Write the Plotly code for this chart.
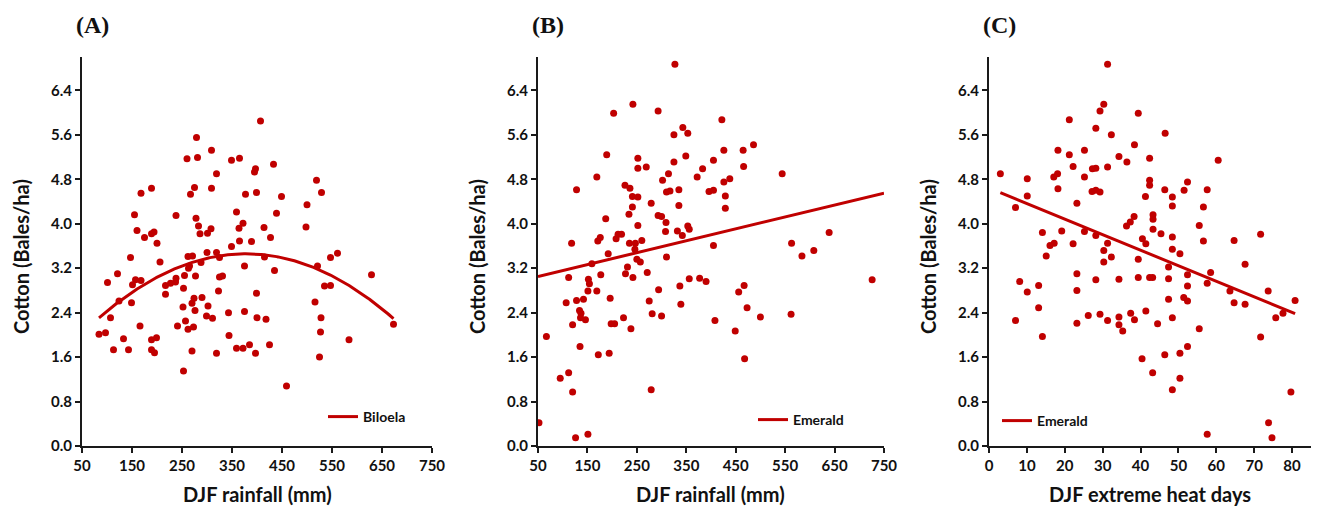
import numpy as np
import plotly.graph_objects as go

RED = "#C00000"

# Panel A: Biloela, DJF rainfall (mm) vs cotton (bales/ha)
a_rain = [407, 279, 260, 281, 309, 349, 365, 319, 397, 395, 168, 189, 275, 267, 309, 377, 399, 155, 238, 278,
          359, 160, 189, 194, 175, 200, 283, 286, 301, 308, 372, 364, 365, 389, 349, 147, 206, 262, 271, 300,
          319, 325, 288, 265, 263, 375, 121, 101, 151, 157, 168, 217, 227, 237, 238, 255, 277, 253, 217, 325,
          331, 323, 399, 274, 290, 433, 449, 519, 529, 500, 439, 414, 427, 498, 547, 561, 415, 521, 435, 629,
          535, 547, 124, 149, 252, 270, 302, 276, 107, 84, 97, 166, 133, 113, 143, 189, 199, 189, 195, 241,
          257, 262, 273, 270, 299, 311, 319, 343, 344, 375, 400, 359, 372, 385, 397, 253, 516, 418, 528, 527,
          584, 425, 525, 459, 673]
a_yield = [5.85, 5.55, 5.17, 5.19, 5.32, 5.14, 5.18, 4.90, 4.99, 4.93, 4.55, 4.64, 4.65, 4.53, 4.64, 4.53, 4.56, 4.16, 4.15, 4.10,
           4.21, 3.88, 3.82, 3.85, 3.75, 3.65, 3.96, 3.82, 3.83, 3.91, 4.01, 3.92, 3.69, 3.68, 3.59, 3.39, 3.31, 3.41, 3.42, 3.48,
           3.48, 3.39, 3.30, 3.24, 3.20, 3.24, 3.10, 2.94, 2.90, 2.99, 2.98, 2.89, 2.93, 2.95, 3.02, 3.07, 3.06, 2.84, 2.73, 3.04,
           3.06, 2.79, 2.75, 2.66, 2.67, 5.07, 4.49, 4.78, 4.56, 4.34, 4.19, 3.93, 3.75, 3.94, 3.39, 3.47, 3.40, 3.24, 3.16, 3.08,
           2.88, 2.89, 2.61, 2.58, 2.50, 2.57, 2.52, 2.44, 2.31, 2.01, 2.04, 2.16, 1.93, 1.73, 1.73, 1.91, 1.95, 1.73, 1.68, 2.16,
           2.25, 2.10, 2.14, 1.71, 2.34, 2.30, 1.67, 2.40, 1.99, 2.42, 2.31, 1.76, 1.76, 1.82, 1.67, 1.35, 2.59, 2.28, 2.31, 2.05,
           1.91, 1.82, 1.60, 1.08, 2.19]

# Panel B: Emerald, DJF rainfall (mm) vs cotton (bales/ha)
b_rain = [327, 242, 203, 293, 343, 353, 325, 189, 252, 252, 269, 349, 325, 405, 383, 169, 314, 302, 372, 128,
          226, 236, 310, 317, 335, 396, 405, 241, 252, 279, 241, 335, 234, 293, 300, 187, 309, 252, 353, 356,
          332, 342, 308, 212, 219, 208, 176, 171, 118, 235, 247, 260, 246, 192, 405, 159, 250, 257, 310, 231,
          422, 426, 465, 486, 466, 438, 426, 429, 429, 544, 563, 584, 608, 639, 112, 152, 154, 177, 227, 242,
          271, 151, 169, 107, 128, 142, 196, 134, 137, 136, 146, 120, 198, 205, 223, 238, 275, 294, 281, 300,
          337, 356, 377, 390, 339, 408, 67, 135, 172, 194, 95, 112, 120, 279, 52, 151, 126, 467, 456, 473,
          449, 500, 562, 468, 726]
b_yield = [6.87, 6.15, 5.99, 6.03, 5.73, 5.63, 5.60, 5.24, 5.18, 5.00, 5.02, 5.22, 5.11, 5.14, 4.99, 4.84, 4.90, 4.78, 4.84, 4.61,
           4.69, 4.64, 4.57, 4.59, 4.61, 4.58, 4.60, 4.49, 4.48, 4.37, 4.30, 4.33, 4.17, 4.15, 4.13, 4.09, 4.02, 3.97, 3.96, 3.90,
           3.87, 3.79, 3.86, 3.81, 3.81, 3.73, 3.75, 3.69, 3.65, 3.65, 3.65, 3.70, 3.54, 3.46, 3.61, 3.28, 3.36, 3.31, 3.40, 3.22,
           5.87, 5.32, 5.32, 5.42, 5.03, 4.81, 4.75, 4.50, 4.28, 4.90, 3.65, 3.42, 3.52, 3.84, 3.03, 3.00, 2.92, 3.08, 3.10, 3.03,
           3.12, 2.79, 2.79, 2.58, 2.62, 2.64, 2.66, 2.44, 2.39, 2.31, 2.27, 2.18, 2.20, 2.20, 2.31, 2.11, 2.61, 2.81, 2.38, 2.34,
           2.88, 3.01, 3.02, 2.96, 2.55, 2.26, 1.97, 1.79, 1.64, 1.67, 1.22, 1.32, 0.97, 1.01, 0.42, 0.21, 0.15, 2.89, 2.77, 2.49,
           2.07, 2.32, 2.37, 1.57, 2.99]
# Panel B linear trendline (ends at 50 and 750 mm)
b_trend_rain = [50, 750]
b_trend_yield = [3.05, 4.55]

# Panel C: Emerald, DJF extreme heat days vs cotton (bales/ha)
c_days = [31.3, 30.3, 29.3, 39.4, 21.2, 28.2, 32.3, 38.4, 18.2, 25.2, 21.2, 34.3, 36.4, 42.4, 22.2, 27.3, 28.2, 31.3, 3.0, 10.1,
          18.1, 17.1, 25.2, 18.2, 42.4, 42.4, 27.2, 28.2, 29.3, 10.1, 41.3, 7.0, 23.2, 38.3, 37.3, 36.3, 43.3, 43.3, 43.3, 14.1,
          19.2, 25.2, 28.2, 17.2, 16.1, 22.2, 31.3, 40.5, 41.4, 30.3, 15.1, 32.3, 30.3, 39.4, 46.5, 60.5, 52.4, 46.4, 51.5, 57.6,
          48.4, 48.4, 56.6, 55.5, 45.4, 48.4, 71.7, 56.6, 64.7, 48.4, 50.4, 67.6, 47.4, 8.1, 10.1, 13.1, 23.2, 23.2, 28.2, 34.3,
          39.4, 42.4, 43.2, 13.1, 7.0, 14.1, 23.2, 26.2, 29.3, 31.3, 34.3, 34.3, 35.3, 37.4, 38.4, 41.4, 40.4, 43.2, 47.4, 52.4,
          52.4, 58.5, 57.6, 63.6, 73.7, 64.7, 67.6, 80.8, 47.4, 51.4, 52.4, 48.4, 44.5, 55.5, 75.7, 77.6, 71.7, 46.4, 50.4, 52.4,
          50.4, 48.4, 79.7, 73.8, 57.6, 74.7]
c_yield = [6.87, 6.15, 6.03, 5.99, 5.87, 5.72, 5.60, 5.42, 5.32, 5.32, 5.24, 5.21, 5.11, 5.18, 5.03, 4.99, 5.00, 5.02, 4.90, 4.81,
           4.90, 4.84, 4.84, 4.63, 4.78, 4.69, 4.58, 4.60, 4.57, 4.50, 4.49, 4.29, 4.37, 4.13, 4.03, 3.96, 4.16, 4.08, 3.90, 3.84,
           3.87, 3.86, 3.79, 3.65, 3.61, 3.64, 3.65, 3.73, 3.64, 3.52, 3.42, 3.40, 3.31, 3.36, 5.63, 5.14, 4.75, 4.61, 4.60, 4.61,
           4.48, 4.32, 4.30, 3.97, 3.82, 3.76, 3.81, 3.69, 3.70, 3.54, 3.46, 3.27, 3.22, 2.96, 2.77, 2.89, 3.10, 2.80, 2.99, 3.00,
           3.03, 3.03, 3.03, 2.49, 2.26, 1.97, 2.21, 2.35, 2.37, 2.26, 2.32, 2.18, 2.07, 2.39, 2.27, 2.43, 1.57, 1.32, 3.01, 3.08,
           2.88, 3.12, 2.93, 2.79, 2.79, 2.58, 2.55, 2.62, 2.64, 2.67, 2.61, 2.31, 2.20, 2.11, 2.31, 2.39, 1.96, 1.64, 1.67, 1.79,
           1.22, 1.01, 0.97, 0.42, 0.21, 0.15]

y_ticks = [0.0, 0.8, 1.6, 2.4, 3.2, 4.0, 4.8, 5.6, 6.4]
rain_ticks = [50, 150, 250, 350, 450, 550, 650, 750]
heat_ticks = [0, 10, 20, 30, 40, 50, 60, 70, 80]

# The page body has an 8 px margin, so the figure is sized to fit the window and
# layout positions (given in window pixels) are offset by it.
OFF = 8
W, H = 1320 - OFF, 509 - OFF
FONT = "Lato"


def fx(p):
    return (p - OFF) / W


def fy(p):
    return 1 - (p - OFF) / H


# Trendlines fitted from the data (Excel-style) for A and C
pa = np.polyfit(a_rain, a_yield, 2)
xa = np.linspace(min(a_rain), max(a_rain), 200)
pc = np.polyfit(c_days, c_yield, 1)
xc = np.linspace(min(c_days), max(c_days), 50)

fig = go.Figure()

mk = dict(color=RED, size=7, line=dict(width=0))
fig.add_trace(go.Scatter(x=a_rain, y=a_yield, mode="markers", marker=mk, showlegend=False, xaxis="x", yaxis="y"))
fig.add_trace(go.Scatter(x=xa, y=np.polyval(pa, xa), mode="lines", line=dict(color=RED, width=3),
                         name="Biloela", xaxis="x", yaxis="y", legend="legend"))
fig.add_trace(go.Scatter(x=b_rain, y=b_yield, mode="markers", marker=mk, showlegend=False, xaxis="x2", yaxis="y2"))
fig.add_trace(go.Scatter(x=b_trend_rain, y=b_trend_yield, mode="lines", line=dict(color=RED, width=3),
                         name="Emerald", xaxis="x2", yaxis="y2", legend="legend2"))
fig.add_trace(go.Scatter(x=c_days, y=c_yield, mode="markers", marker=mk, showlegend=False, xaxis="x3", yaxis="y3"))
fig.add_trace(go.Scatter(x=xc, y=np.polyval(pc, xc), mode="lines", line=dict(color=RED, width=3),
                         name="Emerald", xaxis="x3", yaxis="y3", legend="legend3"))

ydom = [fy(446), fy(57)]
doms = [(82, 432), (538, 884), (989, 1311)]

tickfont = dict(family=FONT, size=15, color="#111111", weight="bold")
common_axis = dict(showline=True, linecolor="#1a1a1a", linewidth=2, ticks="outside", ticklen=5,
                   tickwidth=2, tickcolor="#1a1a1a", showgrid=False, zeroline=False, tickfont=tickfont,
                   mirror=False, automargin=False)

layout = dict(width=W, height=H, margin=dict(l=0, r=0, t=0, b=0, autoexpand=False), plot_bgcolor="white",
              paper_bgcolor="white", font=dict(family=FONT), template="none")
for i, (x0, x1) in enumerate(doms):
    sfx = "" if i == 0 else str(i + 1)
    xa_cfg = dict(common_axis, domain=[fx(x0), min(fx(x1), 1.0)], anchor="y" + sfx)
    if i < 2:
        xa_cfg.update(range=[50, 750], tickvals=rain_ticks, ticktext=[str(t) for t in rain_ticks])
    else:
        xa_cfg.update(range=[0, 85], tickvals=heat_ticks)
    ya_cfg = dict(common_axis, domain=ydom, anchor="x" + sfx, range=[0, 7.0], tickvals=y_ticks,
                  ticktext=["%.1f" % t for t in y_ticks])
    layout["xaxis" + sfx] = xa_cfg
    layout["yaxis" + sfx] = ya_cfg

legfont = dict(family=FONT, size=14, color="#111111", weight="bold")
legcommon = dict(xanchor="left", yanchor="middle", bgcolor="rgba(0,0,0,0)", font=legfont, itemwidth=30,
                 borderwidth=0)
layout["legend"] = dict(legcommon, x=fx(323), y=fy(417))
layout["legend2"] = dict(legcommon, x=fx(753), y=fy(420))
layout["legend3"] = dict(legcommon, x=fx(997), y=fy(421))

fig.update_layout(**layout)

titlefont = dict(family=FONT, size=20, color="#111111", weight="bold")
panelfont = dict(family="Liberation Serif", size=24, color="#111111", weight="bold")
for (x0, x1), lab, xt in zip(doms, ["(A)", "(B)", "(C)"],
                             ["DJF rainfall (mm)", "DJF rainfall (mm)", "DJF extreme heat days"]):
    fig.add_annotation(x=fx(x0 + 10), y=fy(25), xref="paper", yref="paper", text=lab, showarrow=False,
                       font=panelfont, xanchor="center", yanchor="middle")
    fig.add_annotation(x=fx((x0 + x1) / 2), y=fy(494), xref="paper", yref="paper", text=xt, showarrow=False,
                       font=titlefont, xanchor="center", yanchor="middle")
    fig.add_annotation(x=fx(x0 - 61), y=fy(257), xref="paper", yref="paper", text="Cotton (Bales/ha)",
                       showarrow=False, textangle=-90, font=titlefont, xanchor="center", yanchor="middle")

fig.write_html("out.html")
